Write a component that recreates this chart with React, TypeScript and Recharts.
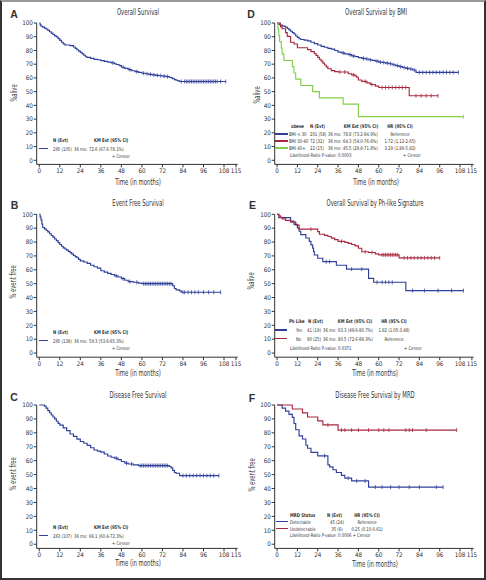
import React from "react";
import { LineChart, Line, XAxis, YAxis } from "recharts";

const BLUE = "#30409a";
const RED = "#a8283f";
const GREEN = "#82cf45";
const INK = "#333";
const FONT = '"DejaVu Sans Condensed", "Liberation Sans Narrow", "Arial Narrow", sans-serif';

const X_TICKS = [0, 12, 24, 36, 48, 60, 72, 84, 96, 108, 115];
const Y_TICKS = [0, 10, 20, 30, 40, 50, 60, 70, 80, 90, 100];

// A - overall survival
const osTime = [0, 0.5, 1, 2, 3, 4, 5, 6, 7, 8, 9, 10, 11, 12, 13, 14, 15, 18, 20, 21, 22, 23, 24, 25, 26, 27, 28, 30, 32, 34, 36, 38, 40, 42, 44, 45, 46, 47, 48, 50, 52, 54, 56, 58, 60, 62, 64, 66, 68, 70, 72, 74, 76, 77, 78, 79, 80, 81, 82];
const osSurv = [100, 98.6, 97.6, 97, 96.3, 95.6, 94.6, 93.6, 92.6, 91.6, 90.6, 89.9, 88.6, 87.3, 86, 84.8, 84, 83.5, 82.5, 81.5, 80.5, 79.5, 78.6, 77.5, 76.5, 75.4, 75, 74.2, 73.5, 73.2, 72.6, 72, 71.5, 71, 70.3, 69.8, 69.6, 69, 67.8, 67, 66, 65.2, 64.6, 64, 63.4, 63, 62.6, 62.2, 61.9, 61.6, 61.3, 60.9, 60.5, 60, 59.4, 58.8, 58.3, 57.8, 57.4];
const osCensor = [43, 49, 53, 57, 61, 63, 65, 67, 69, 71, 73, 75, 83, 85, 86, 87, 88, 89, 90, 91, 92, 93, 94, 95, 96, 97, 98, 99, 100, 101, 102, 103, 104, 106, 109];

// B - event free survival
const efsTime = [0, 0.5, 1, 1.5, 2, 3, 4, 5, 6, 7, 8, 9, 10, 11, 12, 13, 14, 15, 16, 17, 18, 19, 20, 21, 22, 23, 24, 26, 28, 30, 32, 34, 36, 38, 40, 42, 44, 46, 48, 50, 52, 55, 58, 60, 78, 79, 80, 82, 83];
const efsSurv = [100, 98, 96, 93, 90.5, 89.5, 88.5, 87.3, 86, 84.7, 83.5, 82.2, 81, 79.6, 78.2, 77, 75.8, 75, 74.2, 73.3, 72.4, 71.3, 70.3, 69.5, 68.7, 67.5, 66.4, 65.6, 64.6, 63.3, 62.2, 61.2, 59.3, 58.3, 57.4, 56.6, 55.6, 54.8, 53.6, 52.5, 51.5, 51, 50.4, 50, 48.5, 46.5, 45.5, 44.8, 43.8];
const efsCensor = [45, 49, 53, 57, 61, 62, 63, 64, 65, 66, 67, 68, 69, 70, 71, 72, 73, 74, 75, 76, 77, 84, 85, 87, 89, 91, 93, 96, 99, 102, 106];

// C - disease free survival
const dfsTime = [0, 3, 4, 5, 6, 7, 8, 9, 10, 11, 12, 14, 16, 18, 20, 22, 24, 26, 28, 30, 32, 34, 36, 38, 40, 42, 44, 46, 48, 50, 52, 55, 58, 76, 77, 78, 79, 80, 82];
const dfsSurv = [100, 99.2, 97.8, 96, 94.4, 92.8, 91.4, 90, 88.3, 86.8, 85.5, 83.6, 81.6, 79.2, 77.5, 75.5, 73.8, 72.5, 71, 69.3, 67.7, 66.9, 66.1, 64.8, 63.4, 62.5, 61.8, 60.8, 59.4, 58.2, 57.6, 57, 56.5, 55.8, 54.8, 53, 51.5, 51, 49.3];
const dfsCensor = [45, 51, 54, 59, 60, 61, 62, 63, 64, 65, 66, 67, 68, 69, 70, 71, 72, 73, 74, 75, 84, 86, 88, 90, 92, 94, 96, 98, 100, 102, 105];

// D - overall survival by BMI
const bmiLowTime = [0, 1, 2, 3, 4, 5, 6, 7, 8, 9, 10, 11, 12, 13, 14, 16, 18, 20, 22, 24, 26, 28, 30, 32, 34, 36, 38, 40, 42, 44, 46, 48, 50, 52, 54, 56, 58, 60, 62, 64, 66, 68, 70, 72, 74, 76, 78, 80, 82];
const bmiLowSurv = [100, 99, 98.5, 98, 97.5, 97, 96, 95, 94, 93, 92, 90.5, 89.5, 88.5, 88, 87.5, 87, 86, 85, 84, 83, 82.3, 81.5, 81, 80, 78.8, 78.2, 77.5, 77, 76, 75.5, 74.8, 74.2, 73.8, 73.2, 72.8, 72.2, 71.5, 71.2, 70.8, 70.3, 69.6, 69, 68.2, 67.6, 67, 66.5, 65.8, 64];
const bmiLowCensor = [39, 43, 45, 51, 53, 55, 59, 61, 63, 65, 67, 69, 71, 73, 75, 77, 79, 81, 84, 86, 88, 90, 92, 94, 96, 98, 100, 102, 104, 107];
const bmiMidTime = [0, 2, 3, 5, 6, 8, 10, 12, 18, 20, 22, 23, 24, 25, 26, 27, 28, 29, 30, 32, 34, 36, 42, 44, 46, 47, 48, 50, 53, 55, 58, 60, 78];
const bmiMidSurv = [100, 97.2, 95.8, 93, 90.3, 86, 84.7, 82, 80.6, 79.2, 77.8, 76.4, 75, 73.6, 72.2, 70.8, 69.4, 68, 66.7, 65.3, 64.6, 64.3, 63, 62.2, 61.5, 60.5, 58.5, 57.5, 56.4, 55.2, 54, 53, 47];
const bmiMidCensor = [37, 40, 45, 52, 56, 62, 64, 66, 68, 70, 72, 74, 76, 82, 85, 88, 91, 95];
const bmiHighTime = [0, 0.5, 1, 1.5, 2.5, 3, 4, 9, 10, 11, 14, 21, 25, 39, 48];
const bmiHighSurv = [100, 95.5, 90.9, 86.4, 81.8, 77.3, 72.7, 68.2, 63.6, 59.1, 54.5, 50, 45.5, 40.9, 31.8];
const bmiHighCensor = [110];

// E - overall survival by Ph-like signature
const phYesTime = [0, 1, 8, 10, 12, 13, 14, 17, 19, 20, 21, 21.5, 22, 24, 27, 35, 41, 54, 57, 76];
const phYesSurv = [100, 97.6, 95.1, 92.7, 90.2, 87.8, 85.4, 82.9, 80.5, 78, 75.6, 73.2, 70.7, 68.3, 65.9, 63.3, 60.5, 53.8, 51, 45];
const phYesCensor = [29, 31, 44, 50, 59, 62, 64, 66, 68, 80, 87, 95, 103, 110];
const phNoTime = [0, 1, 2, 3, 5, 8, 11, 13, 24, 25, 28, 30, 32, 34, 36, 40, 42, 44, 46, 48, 50, 54, 58, 60, 72];
const phNoSurv = [100, 98.9, 97.8, 96.7, 95.6, 94.4, 92.2, 89.3, 87.5, 85.6, 84.8, 84, 82.8, 81.8, 80.5, 79.8, 79, 78.2, 77.2, 75.5, 73, 72.5, 71.5, 70.8, 68.6];
const phNoCensor = [20, 38, 52, 56, 62, 63, 64, 65, 66, 67, 68, 69, 70, 71, 75, 77, 79, 81, 83, 85, 87, 89, 91, 93, 96];

// F - disease free survival by MRD
const mrdPosTime = [0, 3, 5, 7, 9, 10, 11, 13, 15, 17, 18, 20, 24, 30, 31, 33, 35, 38, 40, 44, 54];
const mrdPosSurv = [100, 97.8, 95.6, 93.3, 91.1, 86.7, 82.2, 77.8, 75.6, 71.1, 68.9, 66, 63.5, 57, 55.6, 53.5, 51.5, 49.5, 47.5, 45.5, 41];
const mrdPosCensor = [28, 42, 47, 52, 58, 62, 67, 72, 78, 84, 94, 98];
const mrdNegTime = [0, 9, 15, 18, 24, 27, 36];
const mrdNegSurv = [100, 97.1, 94.3, 91.4, 88.6, 85.7, 82];
const mrdNegCensor = [30, 38, 40, 44, 48, 54, 60, 63, 66, 76, 78, 80, 88, 106];

// legend texts
const ONE_HEAD = ["N (Evt)", "KM Est (95% CI)"];
const OS_ROW = ["295 (105)", "36 mo:", "72.6 (67.6-78.1%)"];
const EFS_ROW = ["295 (139)", "36 mo:", "59.3 (53.8-65.3%)"];
const DFS_ROW = ["263 (107)", "36 mo:", "66.1 (60.4-72.3%)"];
const BMI_HEAD = ["obese", "N (Evt)", "KM Est (95% CI)", "HR (95% CI)"];
const BMI_GROUP = ["BMI < 30", "BMI 30-40", "BMI 40+"];
const BMI_N = ["201 (58)", "72 (32)", "22 (15)"];
const BMI_KM = ["78.8 (73.2-84.9%)", "64.3 (54.0-76.6%)", "45.5 (28.8-71.8%)"];
const BMI_HR = ["Reference", "1.72 (1.12-2.65)", "3.29 (1.86-5.82)"];
const PH_HEAD = ["Ph Like", "N (Evt)", "KM Est (95% CI)", "HR (95% CI)"];
const PH_GROUP = ["Yes", "No"];
const PH_N = ["41 (19)", "90 (25)"];
const PH_KM = ["63.3 (49.6-80.7%)", "80.5 (72.6-89.3%)"];
const PH_HR = ["1.92 (1.05-3.48)", "Reference"];
const MRD_HEAD = ["MRD Status", "N (Evt)", "HR (95% CI)"];
const MRD_GROUP = ["Detectable", "Undetectable"];
const MRD_N = ["45 (24)", "35 (6)"];
const MRD_HR = ["Reference", "0.25 (0.10-0.61)"];

type Pt = { t: number; s: number; c: boolean };

function km(times: number[], surv: number[], censor: number[]): Pt[] {
  const pts: Pt[] = times.map((t, i) => ({ t, s: surv[i], c: false }));
  censor.forEach((t) => {
    let s = surv[0];
    times.forEach((tt, i) => {
      if (tt <= t) s = surv[i];
    });
    pts.push({ t, s, c: true });
  });
  return pts.sort((a, b) => a.t - b.t);
}

const censorDot = (color: string) => (p: any) =>
  p.payload && p.payload.c ? (
    <line key={`c-${p.index}`} x1={p.cx} x2={p.cx} y1={p.cy - 2} y2={p.cy + 2} stroke={color} strokeWidth={0.8} />
  ) : (
    <g key={`n-${p.index}`} />
  );

const LEFT = { x: 0, yAxisW: 36.7, right: 5.3, xMin: -1.5 };
const RIGHT = { x: 243, yAxisW: 31.7, right: 12.4, xMin: -1.4 };
const ROWS = [
  { y: 0, h: 190, top: 23, bottom: 164.4 },
  { y: 185, h: 195, top: 29.3, bottom: 172.2 },
  { y: 380, h: 198, top: 25, bottom: 168.4 },
];

type Curve = { data: Pt[]; color: string };

function KMPanel({ col, row, curves }: { col: typeof LEFT; row: (typeof ROWS)[0]; curves: Curve[] }) {
  const tick = { fontSize: 6.3, fill: INK, letterSpacing: -0.15 };
  return (
    <div style={{ position: "absolute", left: col.x, top: row.y }}>
      <LineChart width={243} height={row.h} margin={{ top: row.top, right: col.right, left: 0, bottom: 0 }}>
        <XAxis type="number" dataKey="t" domain={[col.xMin, 116]} ticks={X_TICKS} interval={0} height={row.h - row.bottom} tickSize={3} tickMargin={1} tick={tick} stroke={INK} />
        <YAxis type="number" domain={[-3, 100]} ticks={Y_TICKS} interval={0} width={col.yAxisW} tickSize={3} tickMargin={1} tick={tick} stroke={INK} />
        {curves.map((c, i) => (
          <Line key={i} data={c.data} dataKey="s" type="stepAfter" stroke={c.color} strokeWidth={1.15} dot={censorDot(c.color)} activeDot={false} isAnimationActive={false} />
        ))}
      </LineChart>
    </div>
  );
}

// text helper: squeezes text horizontally to mimic the condensed face of the original
function Txt({ x, y, s, size = 5, bold = false, anchor = "start", rotate = false, k = 0.85, family }: any) {
  let transform = `translateY(-50%) scaleX(${k})`;
  let origin = "left center";
  if (anchor === "middle") {
    transform = `translate(-50%, -50%) scaleX(${k})`;
    origin = "center center";
  }
  if (rotate) {
    transform = `translate(-50%, -50%) rotate(-90deg) scaleX(${k})`;
    origin = "center center";
  }
  return (
    <div
      style={{
        position: "absolute",
        left: x,
        top: y,
        fontSize: size,
        fontWeight: bold ? 700 : 400,
        fontFamily: family,
        lineHeight: 1,
        whiteSpace: "nowrap",
        color: INK,
        transform,
        transformOrigin: origin,
      }}
    >
      {s}
    </div>
  );
}

const Swatch = ({ x1, x2, y, color }: any) => (
  <div style={{ position: "absolute", left: x1, top: y - 0.6, width: x2 - x1, height: 1.2, background: color }} />
);

function SingleLegend({ y, row }: { y: number; row: string[] }) {
  return (
    <>
      <Txt x={53} y={y} s={ONE_HEAD[0]} bold />
      <Txt x={94} y={y} s={ONE_HEAD[1]} bold />
      <Swatch x1={39} x2={48} y={y + 8.5} color={BLUE} />
      <Txt x={53} y={y + 8.5} s={row[0]} />
      <Txt x={73.5} y={y + 8.5} s={row[1]} />
      <Txt x={88.5} y={y + 8.5} s={row[2]} />
      <Txt x={112} y={y + 15.5} s="+ Censor" />
    </>
  );
}

export default function App() {
  const title = (x: number, y: number, s: string) => <Txt x={x} y={y} s={s} size={8} k={0.74} anchor="middle" />;
  const letter = (x: number, y: number, s: string) => (
    <Txt x={x} y={y} s={s} size={10.5} k={1} bold anchor="middle" family='"Liberation Sans", Arial, sans-serif' />
  );
  const xLabel = (x: number, y: number) => <Txt x={x} y={y} s="Time (in months)" size={8} k={0.74} anchor="middle" />;
  const yLabel = (x: number, y: number, s: string) => <Txt x={x} y={y} s={s} size={8} k={0.72} rotate />;
  const bmiColors = [BLUE, RED, GREEN];
  const twoColors = [BLUE, RED];

  return (
    <div style={{ position: "absolute", left: 0, top: 0, width: 486, height: 580, background: "#fff", fontFamily: FONT, overflow: "hidden" }}>
      <KMPanel col={LEFT} row={ROWS[0]} curves={[{ data: km(osTime, osSurv, osCensor), color: BLUE }]} />
      <KMPanel col={LEFT} row={ROWS[1]} curves={[{ data: km(efsTime, efsSurv, efsCensor), color: BLUE }]} />
      <KMPanel col={LEFT} row={ROWS[2]} curves={[{ data: km(dfsTime, dfsSurv, dfsCensor), color: BLUE }]} />
      <KMPanel
        col={RIGHT}
        row={ROWS[0]}
        curves={[
          { data: km(bmiLowTime, bmiLowSurv, bmiLowCensor), color: BLUE },
          { data: km(bmiMidTime, bmiMidSurv, bmiMidCensor), color: RED },
          { data: km(bmiHighTime, bmiHighSurv, bmiHighCensor), color: GREEN },
        ]}
      />
      <KMPanel
        col={RIGHT}
        row={ROWS[1]}
        curves={[
          { data: km(phYesTime, phYesSurv, phYesCensor), color: BLUE },
          { data: km(phNoTime, phNoSurv, phNoCensor), color: RED },
        ]}
      />
      <KMPanel
        col={RIGHT}
        row={ROWS[2]}
        curves={[
          { data: km(mrdPosTime, mrdPosSurv, mrdPosCensor), color: BLUE },
          { data: km(mrdNegTime, mrdNegSurv, mrdNegCensor), color: RED },
        ]}
      />

      {letter(14, 13.5, "A")}
      {letter(251, 13.5, "D")}
      {letter(14.5, 205, "B")}
      {letter(252.5, 205, "E")}
      {letter(14, 396.5, "C")}
      {letter(252, 398, "F")}

      {title(138, 13, "Overall Survival")}
      {title(376, 13, "Overall Survival by BMI")}
      {title(138, 204, "Event Free Survival")}
      {title(375, 204, "Overall Survival by Ph-like Signature")}
      {title(138, 396, "Disease Free Survival")}
      {title(375, 396, "Disease Free Survival by MRD")}

      {xLabel(138, 182.7)}
      {xLabel(375.5, 182.7)}
      {xLabel(138, 374.3)}
      {xLabel(375, 374.3)}
      {xLabel(138, 564.3)}
      {xLabel(375, 565)}

      {yLabel(15, 93, "%alive")}
      {yLabel(258, 95, "%alive")}
      {yLabel(14, 282, "% event free")}
      {yLabel(252, 281, "%alive")}
      {yLabel(14, 474, "% event free")}
      {yLabel(253, 475, "% event free")}

      <SingleLegend y={140} row={OS_ROW} />
      <SingleLegend y={332} row={EFS_ROW} />
      <SingleLegend y={527} row={DFS_ROW} />

      {/* D legend */}
      <Txt x={291} y={126} s={BMI_HEAD[0]} bold />
      <Txt x={310} y={126} s={BMI_HEAD[1]} bold />
      <Txt x={361} y={126} s={BMI_HEAD[2]} bold anchor="middle" />
      <Txt x={400} y={126} s={BMI_HEAD[3]} bold anchor="middle" />
      {BMI_GROUP.map((g, i) => {
        const y = 134 + i * 7;
        return (
          <React.Fragment key={g}>
            <Swatch x1={275} x2={288} y={y} color={bmiColors[i]} />
            <Txt x={289} y={y} s={g} />
            <Txt x={310} y={y} s={BMI_N[i]} />
            <Txt x={328} y={y} s="36 mo:" />
            <Txt x={343} y={y} s={BMI_KM[i]} />
            <Txt x={400} y={y} s={BMI_HR[i]} anchor="middle" />
          </React.Fragment>
        );
      })}
      <Txt x={290} y={155} s="Likelihood-Ratio P-value: 0.0003" />
      <Txt x={403} y={155} s="+ Censor" />

      {/* E legend */}
      <Txt x={289} y={321} s={PH_HEAD[0]} bold />
      <Txt x={308} y={321} s={PH_HEAD[1]} bold />
      <Txt x={355} y={321} s={PH_HEAD[2]} bold anchor="middle" />
      <Txt x={394} y={321} s={PH_HEAD[3]} bold anchor="middle" />
      {PH_GROUP.map((g, i) => {
        const y = 330 + i * 8.5;
        return (
          <React.Fragment key={g}>
            <Swatch x1={275} x2={287} y={y} color={twoColors[i]} />
            <Txt x={296} y={y} s={g} />
            <Txt x={307} y={y} s={PH_N[i]} />
            <Txt x={323} y={y} s="36 mo:" />
            <Txt x={338} y={y} s={PH_KM[i]} />
            <Txt x={394} y={y} s={PH_HR[i]} anchor="middle" />
          </React.Fragment>
        );
      })}
      <Txt x={290} y={347.5} s="Likelihood-Ratio P-value: 0.0371" />
      <Txt x={404} y={347.5} s="+ Censor" />

      {/* F legend */}
      <Txt x={290} y={515} s={MRD_HEAD[0]} bold />
      <Txt x={327} y={515} s={MRD_HEAD[1]} bold />
      <Txt x={367} y={515} s={MRD_HEAD[2]} bold anchor="middle" />
      {MRD_GROUP.map((g, i) => {
        const y = 521.7 + i * 7;
        return (
          <React.Fragment key={g}>
            <Swatch x1={276} x2={288} y={y} color={twoColors[i]} />
            <Txt x={290} y={y} s={g} />
            <Txt x={337} y={y} s={MRD_N[i]} anchor="middle" />
            <Txt x={367} y={y} s={MRD_HR[i]} anchor="middle" />
          </React.Fragment>
        );
      })}
      <Txt x={290} y={535.3} s="Likelihood-Ratio P-value: 0.0006 + Censor" />

      {/* frame */}
      <div
        style={{
          position: "absolute",
          left: 0,
          top: 0,
          width: 486,
          height: 580,
          boxSizing: "border-box",
          borderLeft: "2px solid #333",
          borderRight: "2px solid #333",
          borderBottom: "2px solid #333",
          borderTop: "2px solid #9a9a9a",
          pointerEvents: "none",
        }}
      />
    </div>
  );
}
